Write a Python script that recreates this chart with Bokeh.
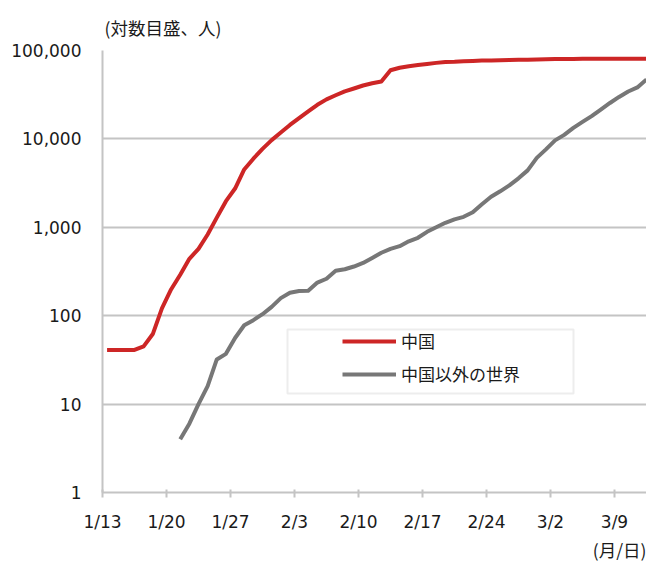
import numpy as np
import pandas as pd
from bokeh.plotting import figure
from bokeh.models import (FixedTicker, Legend, LegendItem, BoxAnnotation, Range1d, Title)
from bokeh.embed import file_html
from bokeh.resources import INLINE

# ---------------- data ----------------
start_date = "2020-01-13"
end_date = "2020-03-12"

china = [41, 41, 41, 41, 45, 62, 121, 198, 291, 440,
         571, 830, 1287, 1975, 2744, 4515, 5974, 7711, 9692, 11791,
         14380, 17205, 20438, 24324, 28018, 31161, 34546, 37198, 40171, 42638,
         44653, 59804, 63851, 66492, 68500, 70548, 72436, 74185, 74576, 75465,
         76288, 76936, 77150, 77658, 78064, 78497, 78824, 79251, 79824, 80026,
         80151, 80270, 80409, 80552, 80651, 80695, 80735, 80754, 80778, 80793]

world = [None, None, None, None, None, None, None, None, 4, 6,
         10, 16, 32, 37, 56, 78, 89, 104, 126, 158,
         182, 190, 191, 237, 262, 322, 335, 360, 395, 450,
         515, 570, 612, 695, 761, 889, 1000, 1125, 1231, 1314,
         1477, 1820, 2212, 2553, 2985, 3580, 4405, 6100, 7610, 9620,
         11100, 13300, 15560, 18100, 21500, 25500, 29850, 34400, 38200, 47000]

x_tick_labels = ["1/13", "1/20", "1/27", "2/3", "2/10", "2/17", "2/24", "3/2", "3/9"]
y_ticks = [1, 10, 100, 1000, 10000, 100000]
y_tick_labels = ["1", "10", "100", "1,000", "10,000", "100,000"]

series_names = ["中国", "中国以外の世界"]
y_title = "(対数目盛、人)"
x_title = "(月/日)"

# ---------------- derived ----------------
dates = pd.date_range(start_date, end_date, freq="D")
t0 = dates[0]
# Excel-style date axis: points sit between tick marks (half a day in)
xs = np.asarray((dates - t0).days, dtype=float) + 0.5
china_arr = np.array(china, dtype=float)
world_arr = np.array([np.nan if v is None else v for v in world], dtype=float)

tick_pos = [float((pd.Timestamp("2020/" + t) - t0).days) for t in x_tick_labels]

RED = "#CD2626"
GRAY = "#777777"
GRID = "#C4C4C4"
TXT = "#1A1A1A"

p = figure(width=646, height=561, output_backend="svg", toolbar_location=None,
           y_axis_type="log",
           x_range=Range1d(0, xs[-1]), y_range=Range1d(y_ticks[0], y_ticks[-1]),
           min_border_left=102, min_border_right=0, min_border_top=50, min_border_bottom=67)
p.outline_line_color = None
p.background_fill_color = "white"
p.border_fill_color = "white"

r_cn = p.line(xs, china_arr, line_color=RED, line_width=4, line_join="round")
r_w = p.line(xs, world_arr, line_color=GRAY, line_width=4, line_join="round")

# axes
p.xaxis.ticker = FixedTicker(ticks=tick_pos)
p.xaxis.major_label_overrides = {tp: lab for tp, lab in zip(tick_pos, x_tick_labels)}
p.yaxis.ticker = FixedTicker(ticks=y_ticks)
p.yaxis.major_label_overrides = {float(v): lab for v, lab in zip(y_ticks, y_tick_labels)}

for ax in (p.xaxis[0], p.yaxis[0]):
    ax.axis_line_color = GRID
    ax.axis_line_width = 2
    ax.minor_tick_line_color = None
    ax.major_label_text_font = "DejaVu Sans"
    ax.major_label_text_font_size = "17px"
    ax.major_label_text_color = TXT

p.xaxis.major_tick_line_color = GRID
p.xaxis.major_tick_line_width = 2
p.xaxis.major_tick_in = 3
p.xaxis.major_tick_out = 5
p.xaxis.major_label_standoff = 14

p.yaxis.major_tick_line_color = None
p.yaxis.major_tick_in = 0
p.yaxis.major_tick_out = 0
p.yaxis.major_label_standoff = 21

p.xgrid.grid_line_color = None
p.ygrid.grid_line_color = GRID
p.ygrid.grid_line_width = 2

# axis titles
t_top = Title(text=y_title, align="left", text_font="Noto Sans CJK JP",
              text_font_size="17.5px", text_font_style="normal", text_color=TXT,
              offset=2, standoff=21)
p.add_layout(t_top, "above")
t_bot = Title(text=x_title, align="right", text_font="Noto Sans CJK JP",
              text_font_size="17.5px", text_font_style="normal", text_color=TXT,
              standoff=0)
p.add_layout(t_bot, "below")

# legend frame
box = BoxAnnotation(left=287, right=573, top=329, bottom=393,
                    left_units="canvas", right_units="canvas",
                    top_units="canvas", bottom_units="canvas",
                    fill_color="white", fill_alpha=1.0,
                    line_color=GRID, line_width=2, level="annotation")
p.add_layout(box)

legend = Legend(items=[LegendItem(label=series_names[0], renderers=[r_cn]),
                       LegendItem(label=series_names[1], renderers=[r_w])],
                location=(240, 106), padding=0, margin=0, spacing=8,
                glyph_width=54, glyph_height=20, label_height=20, label_standoff=5,
                label_text_font="Noto Sans CJK JP", label_text_font_size="17px",
                label_text_color=TXT, border_line_color=None,
                background_fill_alpha=0)
p.add_layout(legend)

open("out.html", "w").write(file_html(p, INLINE))
